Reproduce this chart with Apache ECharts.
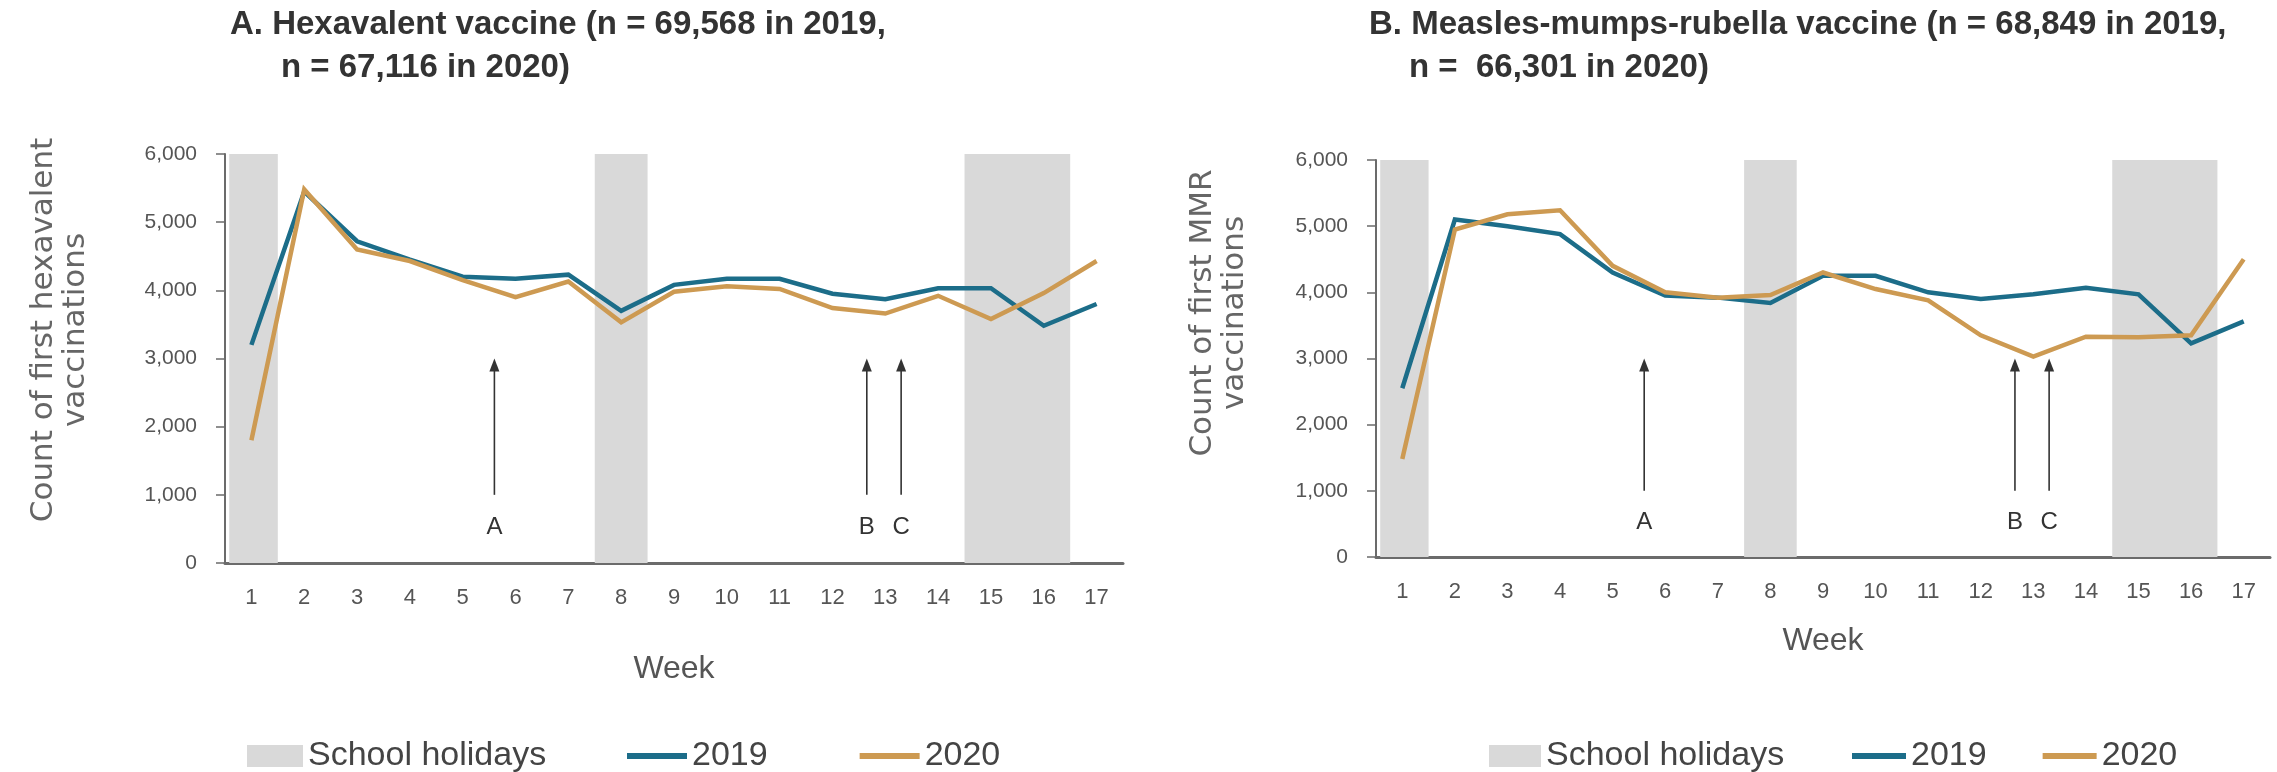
<!DOCTYPE html>
<html>
<head>
<meta charset="utf-8">
<title>First hexavalent and MMR vaccinations by week, 2019 vs 2020</title>
<script src="https://cdn.jsdelivr.net/npm/echarts@6/dist/echarts.min.js"></script>
<style>
  html, body { margin: 0; padding: 0; background: #ffffff; }
  #chart { width: 2277px; height: 772px; }
</style>
</head>
<body>
<div id="chart"></div>
<script>
// Weekly counts of first vaccinations, weeks 1-17
const weeks = ['1','2','3','4','5','6','7','8','9','10','11','12','13','14','15','16','17'];

const hexa2019 = [3200, 5450, 4720, 4450, 4200, 4170, 4230, 3700, 4080, 4170, 4170, 3950, 3870, 4030, 4030, 3480, 3800];
const hexa2020 = [1800, 5480, 4600, 4430, 4150, 3900, 4130, 3530, 3980, 4060, 4020, 3740, 3660, 3920, 3580, 3960, 4430];

const mmr2019 = [2550, 5100, 5000, 4880, 4300, 3950, 3920, 3840, 4250, 4250, 4000, 3900, 3970, 4070, 3970, 3230, 3560];
const mmr2020 = [1480, 4950, 5180, 5240, 4400, 4000, 3920, 3960, 4300, 4050, 3880, 3350, 3030, 3330, 3320, 3350, 4500];

// School holiday spans, in week units (week n spans n-0.5 .. n+0.5)
const holidayBands = [[0.58, 1.5], [7.5, 8.5], [14.5, 16.5]];

// Dated events marked with arrows
const eventWeeks = [5.6, 12.65, 13.3];
const eventLabels = ['A', 'B', 'C'];
const arrowSpan = [1000, 3000];   // arrow base and tip, in counts
const eventLabelAt = 520;         // label position, in counts

// Y axis
const yMin = 0, yMax = 6000, yStep = 1000;

const panelTitles = [
  ['A. Hexavalent vaccine (n = 69,568 in 2019,', 'n = 67,116 in 2020)'],
  ['B. Measles-mumps-rubella vaccine (n = 68,849 in 2019,', 'n =  66,301 in 2020)']
];
const yTitles = ['Count of first hexavalent\nvaccinations', 'Count of first MMR\nvaccinations'];

const C2019 = '#1c6d89';
const C2020 = '#cd9a52';
const CHOL = '#d9d9d9';
const SANS = '"Liberation Sans", Arial, sans-serif';

const chart = echarts.init(document.getElementById('chart'), null, { renderer: 'canvas' });

const grids = [
  { left: 225, top: 154, width: 898, height: 409 },
  { left: 1376, top: 160, width: 894, height: 397 }
];
const weekGaps = [90, 68];

function xAxesFor(g) {
  return [
    {
      type: 'category', gridIndex: g, data: weeks, boundaryGap: true,
      axisLine: { lineStyle: { color: '#6b6b6b', width: 3 } },
      axisTick: { show: false },
      axisLabel: { fontSize: 22, color: '#555', fontFamily: SANS, margin: 24 },
      name: 'Week', nameLocation: 'middle', nameGap: weekGaps[g],
      nameTextStyle: { fontSize: 32, color: '#555', fontFamily: SANS },
      splitLine: { show: false }
    },
    {
      type: 'value', gridIndex: g, min: 0.5, max: 17.5, show: false
    }
  ];
}

function yAxisFor(g) {
  return {
    type: 'value', gridIndex: g, min: yMin, max: yMax, interval: yStep,
    axisLine: { show: true, lineStyle: { color: '#6b6b6b', width: 2 } },
    axisTick: { show: true, length: 9, lineStyle: { color: '#6b6b6b', width: 1.5 } },
    axisLabel: {
      fontSize: 21, color: '#555', fontFamily: SANS, margin: 28,
      formatter: v => v.toLocaleString('en-US')
    },
    splitLine: { show: false }
  };
}

function bandSeries(g) {
  return {
    name: 'School holidays', type: 'custom', xAxisIndex: g * 2 + 1, yAxisIndex: g,
    color: CHOL, z: 1, silent: true,
    data: holidayBands.map(b => [b[0], b[1]]),
    encode: { x: [0, 1] },
    renderItem: (params, api) => {
      const p0 = api.coord([api.value(0), yMax]);
      const p1 = api.coord([api.value(1), yMin]);
      return {
        type: 'rect',
        shape: { x: p0[0], y: p0[1], width: p1[0] - p0[0], height: p1[1] - p0[1] },
        style: { fill: CHOL }
      };
    }
  };
}

function eventSeries(g) {
  return {
    name: 'events', type: 'custom', xAxisIndex: g * 2 + 1, yAxisIndex: g,
    z: 5, silent: true,
    data: eventWeeks.map(w => [w, arrowSpan[0], arrowSpan[1]]),
    encode: { x: 0, y: [1, 2] },
    renderItem: (params, api) => {
      const base = api.coord([api.value(0), api.value(1)]);
      const tip = api.coord([api.value(0), api.value(2)]);
      const lab = api.coord([api.value(0), eventLabelAt]);
      return {
        type: 'group',
        children: [
          { type: 'line', shape: { x1: base[0], y1: base[1], x2: tip[0], y2: tip[1] + 8 },
            style: { stroke: '#333', lineWidth: 1.6 } },
          { type: 'polygon', shape: { points: [[tip[0], tip[1]], [tip[0] - 5, tip[1] + 13], [tip[0] + 5, tip[1] + 13]] },
            style: { fill: '#333' } },
          { type: 'text', x: lab[0], y: lab[1],
            style: { text: eventLabels[params.dataIndex], align: 'center', verticalAlign: 'middle',
                     fontSize: 24, fontFamily: SANS, fill: '#333' } }
        ]
      };
    }
  };
}

function lineSeries(g, name, data, color) {
  return {
    name: name, type: 'line', xAxisIndex: g * 2, yAxisIndex: g,
    data: data, color: color, symbol: 'none', z: 3,
    lineStyle: { width: 4.5, color: color, join: 'miter' }
  };
}

const legendText = { fontSize: 34, color: '#444', fontFamily: SANS };
const titleText = { fontSize: 33, fontWeight: 'bold', color: '#333', fontFamily: SANS };

const option = {
  backgroundColor: '#ffffff',
  animation: false,
  title: [
    { text: panelTitles[0][0], left: 225, top: 3, textStyle: titleText },
    { text: panelTitles[0][1], left: 276, top: 46, textStyle: titleText },
    { text: panelTitles[1][0], left: 1364, top: 3, textStyle: titleText },
    { text: panelTitles[1][1], left: 1404, top: 46, textStyle: titleText }
  ],
  grid: grids,
  xAxis: [...xAxesFor(0), ...xAxesFor(1)],
  yAxis: [yAxisFor(0), yAxisFor(1)],
  legend: [
    { data: [{ name: 'School holidays', icon: 'rect' }], left: 242, top: 734,
      itemWidth: 56, itemHeight: 22, textStyle: legendText, selectedMode: false },
    { data: [{ name: '2019', icon: 'rect' }, { name: '2020', icon: 'rect' }], left: 622, top: 734,
      itemWidth: 60, itemHeight: 6, itemGap: 92, textStyle: legendText, selectedMode: false },
    { data: [{ name: 'School holidays', icon: 'rect' }], left: 1484, top: 734,
      itemWidth: 52, itemHeight: 22, textStyle: legendText, selectedMode: false },
    { data: [{ name: '2019', icon: 'rect' }, { name: '2020', icon: 'rect' }], left: 1847, top: 734,
      itemWidth: 54, itemHeight: 6, itemGap: 56, textStyle: legendText, selectedMode: false }
  ],
  graphic: [
    { type: 'text', x: 60, y: 330, rotation: Math.PI / 2,
      style: { text: yTitles[0], align: 'center', verticalAlign: 'middle', fontSize: 31, lineHeight: 32,
               fontFamily: '"DejaVu Sans", Verdana, sans-serif', fill: '#666' } },
    { type: 'text', x: 1219, y: 313, rotation: Math.PI / 2,
      style: { text: yTitles[1], align: 'center', verticalAlign: 'middle', fontSize: 31, lineHeight: 32,
               fontFamily: '"DejaVu Sans", Verdana, sans-serif', fill: '#666' } }
  ],
  series: [
    bandSeries(0),
    lineSeries(0, '2019', hexa2019, C2019),
    lineSeries(0, '2020', hexa2020, C2020),
    eventSeries(0),
    bandSeries(1),
    lineSeries(1, '2019', mmr2019, C2019),
    lineSeries(1, '2020', mmr2020, C2020),
    eventSeries(1)
  ]
};

chart.setOption(option);
</script>
</body>
</html>
